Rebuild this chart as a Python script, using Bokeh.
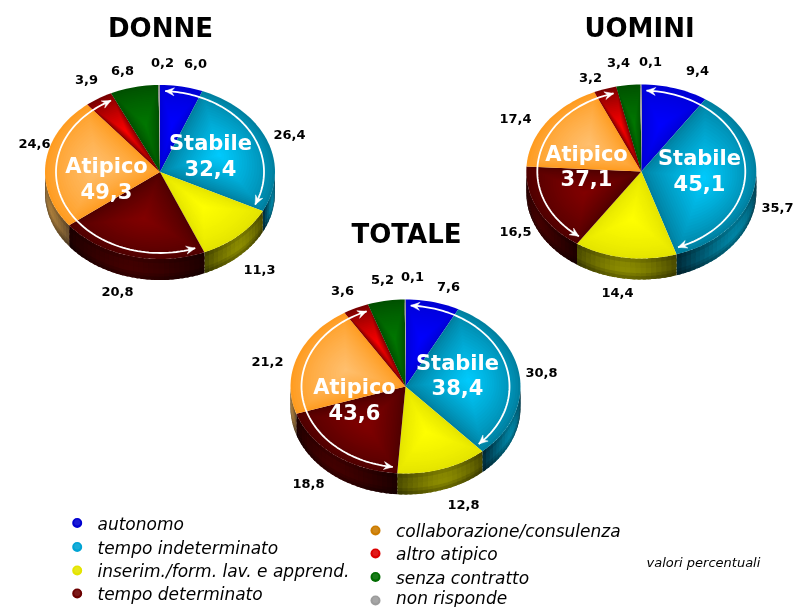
import math
from bokeh.plotting import figure
from bokeh.models import Range1d
from bokeh.core.properties import value
from bokeh.embed import file_html
from bokeh.resources import INLINE

# ---------- data ----------
categories = ["autonomo", "tempo indeterminato", "inserim./form. lav. e apprend.", "tempo determinato",
              "collaborazione/consulenza", "altro atipico", "senza contratto", "non risponde"]
donne = [6.0, 26.4, 11.3, 20.8, 24.6, 3.9, 6.8, 0.2]
uomini = [9.4, 35.7, 14.4, 16.5, 17.4, 3.2, 3.4, 0.1]
totale = [7.6, 30.8, 12.8, 18.8, 21.2, 3.6, 5.2, 0.1]
titles = ["DONNE", "UOMINI", "TOTALE"]
stabile = ["32,4", "45,1", "38,4"]
atipico = ["49,3", "37,1", "43,6"]
note = "valori percentuali"

# ---------- layout / style ----------
W, H = 793, 607
RX, RY, DEPTH = 115, 87, 21
CENTERS = [(159.5, 171.5), (640.8, 171), (405, 386)]
TITLE_POS = [(160, 27.5), (639, 27.5), (406, 233)]
STABILE_POS = [(210, 142, 167), (699, 157, 182), (457, 362, 386)]
ATIPICO_POS = [(106, 165, 190), (586, 153, 177), (354, 386, 411)]
LABEL_POS = [
    [(195, 63), (289, 134), (259, 269), (117, 291), (34, 143), (86, 79), (122, 70), (162, 62)],
    [(697, 70), (777, 207), (617, 292), (515, 231), (515, 117.5), (590, 77), (618, 62), (650, 61)],
    [(448, 286), (541, 372), (463, 504), (308, 483), (267, 361), (342, 290), (382, 279), (412, 276)],
]
TOP_EDGE = ["#0000d4", "#0080a0", "#e4e400", "#500000", "#ff9c20", "#780000", "#005000", "#909090"]
TOP_MID = ["#0000ff", "#00ccff", "#ffff00", "#820000", "#ffc070", "#ff0000", "#007800", "#c0c0c0"]
SIDE_END = ["#000060", "#002a38", "#4c4c00", "#1c0000", "#6a5030", "#400000", "#002000", "#505050"]
SIDE_MID = ["#0000a0", "#0084a4", "#8c8c00", "#420000", "#a87c3c", "#800000", "#004000", "#808080"]
LEG_COL = ["#0000d0", "#00a4d4", "#e4e400", "#6c0000", "#cc7c00", "#dc0000", "#006c00", "#9c9c9c"]
LEG_LEFT = [(76.7, 97, 523), (76.7, 97, 547), (76.7, 97, 570.5), (76.7, 97, 593.5)]
LEG_RIGHT = [(375, 395.5, 530.5), (375, 395.5, 553.5), (375, 395.5, 577), (375, 395.5, 597)]
FONT = "DejaVu Sans"


def rgb(h):
    return tuple(int(h[i:i + 2], 16) for i in (1, 3, 5))


def mix(a, b, t):
    a, b = rgb(a), rgb(b)
    return "#%02x%02x%02x" % tuple(int(round(a[i] + (b[i] - a[i]) * t)) for i in range(3))


def scale(h, f):
    return "#%02x%02x%02x" % tuple(min(255, int(round(c * f))) for c in rgb(h))


p = figure(width=W, height=H, x_range=Range1d(0, W), y_range=Range1d(H, 0),
           output_backend="svg", toolbar_location=None, min_border=0,
           outline_line_color=None, background_fill_color="white", border_fill_color="white")
p.axis.visible = False
p.grid.visible = False
p.styles = {"position": "fixed", "left": "0px", "top": "0px"}


def pt(c, ang, fx=1.0, fy=None):
    fy = fx if fy is None else fy
    return c[0] + RX * fx * math.sin(ang), c[1] - RY * fy * math.cos(ang)


xs, ys, cols = [], [], []


def add(px, py, col):
    xs.append(px)
    ys.append(py)
    cols.append(col)


BANDS = [(.0, .34, .86), (.2, .6, .97), (.45, .75, 1.0), (.7, .88, .88), (.84, 1.0, .74)]


def draw_side(c, vals):
    tot = sum(vals)
    cum = 0.0
    for i, v in enumerate(vals):
        a0, a1 = cum / tot * 2 * math.pi, (cum + v) / tot * 2 * math.pi
        cum += v
        b0, b1 = max(a0, math.pi / 2), min(a1, 3 * math.pi / 2)
        if b1 <= b0:
            continue
        n = max(1, int((b1 - b0) / math.radians(2.5)))
        for k in range(n):
            t0 = b0 + (b1 - b0) * k / n
            t1 = b0 + (b1 - b0) * min(k + 1.6, n) / n
            tm = (k + 0.5) / n
            g = 1 - abs(2 * tm - 1) ** 1.5
            base = mix(SIDE_END[i], SIDE_MID[i], g)
            for v0, v1, f in BANDS:
                x0, y0 = pt(c, t0)
                x1, y1 = pt(c, t1)
                xa, ya = pt(c, (t0 + t1) / 2)
                add([x0, xa, x1, x1, xa, x0],
                    [y0 + DEPTH * v0, ya + DEPTH * v0, y1 + DEPTH * v0,
                     y1 + DEPTH * v1, ya + DEPTH * v1, y0 + DEPTH * v1],
                    scale(base, f))


def draw_top(c, vals):
    tot = sum(vals)
    cum = 0.0
    LAYERS = 22
    for i, v in enumerate(vals):
        a0, a1 = cum / tot * 2 * math.pi, (cum + v) / tot * 2 * math.pi
        cum += v
        n = max(2, int((a1 - a0) / math.radians(2)))
        px = [c[0]] + [pt(c, a0 + (a1 - a0) * k / n)[0] for k in range(n + 1)]
        py = [c[1]] + [pt(c, a0 + (a1 - a0) * k / n)[1] for k in range(n + 1)]
        am = (a0 + a1) / 2
        fx, fy = pt(c, am, 0.55)
        for l in range(LAYERS):
            t = l / LAYERS
            col = mix(TOP_EDGE[i], TOP_MID[i], t ** 0.8)
            add([fx + (x - fx) * (1 - t) for x in px], [fy + (y - fy) * (1 - t) for y in py], col)


def draw_arc(c, vals, i0, i1):
    tot = sum(vals)
    start = sum(vals[:i0]) + 0.8
    end = sum(vals[:i1 + 1]) - 0.8
    n = 80
    ax, ay = [], []
    for k in range(n + 1):
        a = (start + (end - start) * k / n) / tot * 2 * math.pi
        x, y = pt(c, a, 104 / RX, 81 / RY)
        ax.append(x)
        ay.append(y)
    p.line(ax, ay, line_color="white", line_width=1.8)
    heads = []
    for tip, prev in [(0, 4), (n, n - 4)]:
        dx, dy = ax[tip] - ax[prev], ay[tip] - ay[prev]
        d = math.hypot(dx, dy)
        dx, dy = dx / d, dy / d
        tx, ty = ax[tip], ay[tip]
        heads.append(([tx, tx - 9 * dx - 4 * dy, tx - 6 * dx, tx - 9 * dx + 4 * dy],
                      [ty, ty - 9 * dy + 4 * dx, ty - 6 * dy, ty - 9 * dy - 4 * dx]))
    p.patches([h[0] for h in heads], [h[1] for h in heads], fill_color="white", line_color="white", line_width=0.5)


series = [donne, uomini, totale]
for s, c in zip(series, CENTERS):
    draw_side(c, s)
    draw_top(c, s)
p.patches(xs=xs, ys=ys, fill_color=cols, line_color=None)

for s, c in zip(series, CENTERS):
    draw_arc(c, s, 0, 1)
    draw_arc(c, s, 3, 5)


def txt(x, y, t, size, color="black", style="bold", align="center"):
    p.text(x=x, y=y, text=t, text_font=value(FONT), text_font_size=f"{size}px",
           text_font_style=style, text_color=color, text_align=align, text_baseline="middle")


txt([q[0] for q in TITLE_POS], [q[1] for q in TITLE_POS], titles, 26)
for s, pos in zip(series, LABEL_POS):
    txt([q[0] for q in pos], [q[1] for q in pos], [f"{v:.1f}".replace(".", ",") for v in s], 13)
txt([q[0] for q in STABILE_POS], [q[1] for q in STABILE_POS], ["Stabile"] * 3, 21, "white")
txt([q[0] for q in STABILE_POS], [q[2] for q in STABILE_POS], stabile, 21, "white")
txt([q[0] for q in ATIPICO_POS], [q[1] for q in ATIPICO_POS], ["Atipico"] * 3, 21, "white")
txt([q[0] for q in ATIPICO_POS], [q[2] for q in ATIPICO_POS], atipico, 21, "white")

pos = LEG_LEFT + LEG_RIGHT
mark_y = [q[2] - .5 for q in pos]
mark_y[-1] = 600
p.scatter([q[0] for q in pos], mark_y, size=10, color=LEG_COL, line_color=None)
p.scatter([q[0] for q in pos], [y - .5 for y in mark_y], size=6,
          color=[mix(h, "#ffffff", .1) for h in LEG_COL], line_color=None)
txt([q[1] for q in pos], [q[2] for q in pos], categories, 17, style="italic", align="left")
txt([646], [562], [note], 13, style="italic", align="left")

open("out.html", "w").write(file_html(p, INLINE))
